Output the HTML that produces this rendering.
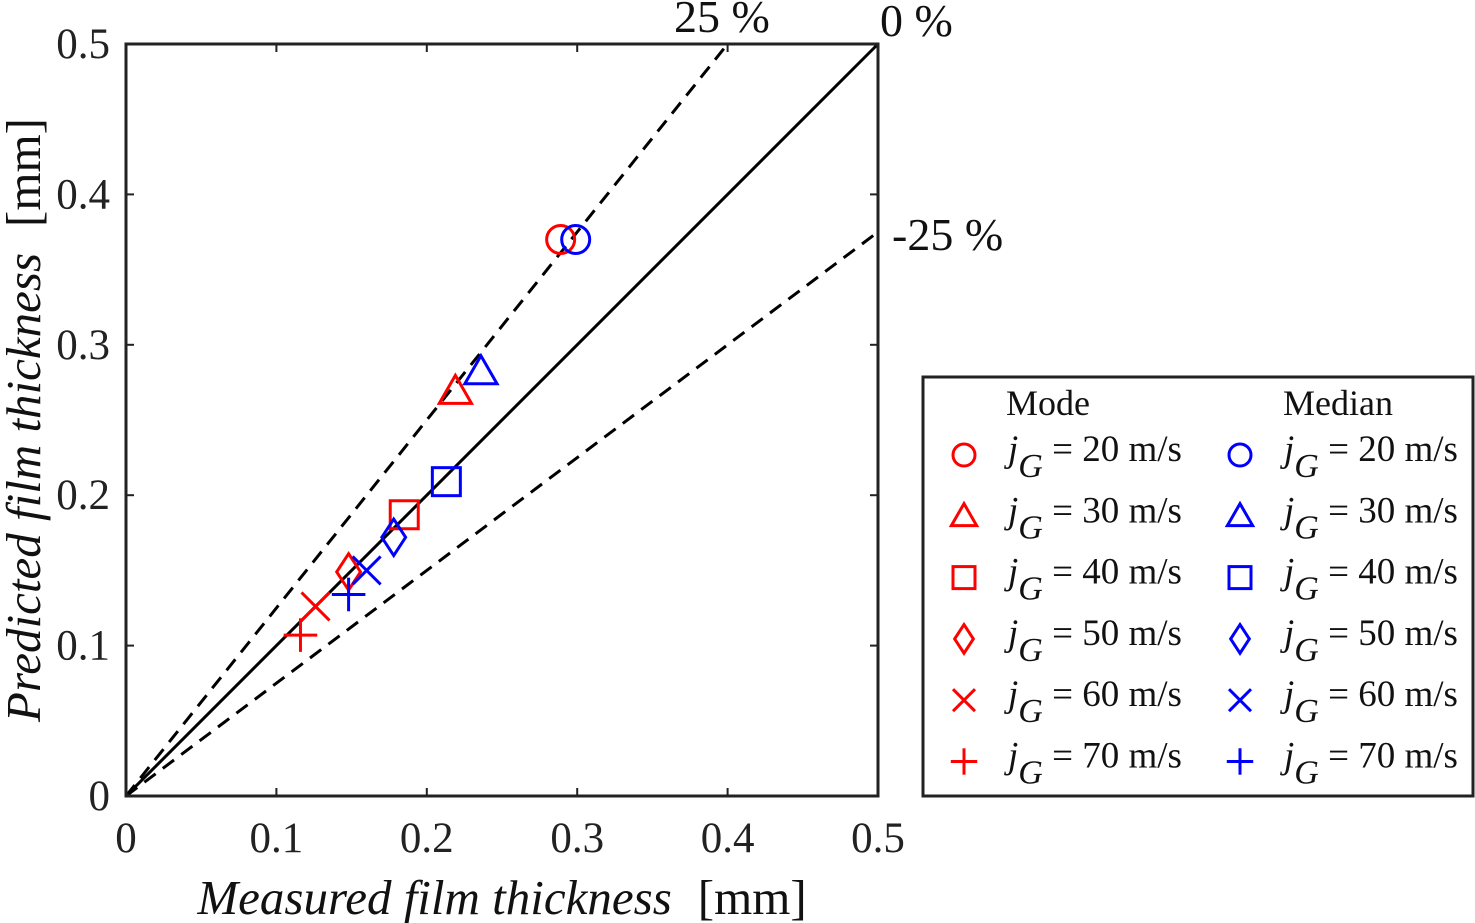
<!DOCTYPE html>
<html><head><meta charset="utf-8"><style>
html,body{margin:0;padding:0;background:#fff;}
svg{display:block;font-family:"Liberation Serif",serif;}
</style></head><body>
<svg id="c" width="1475" height="923" viewBox="0 0 1475 923"></svg>
<script>
const speeds=[20,30,40,50,60,70];
const markers=['circle','triangle','square','diamond','x','plus'];
const modeX=[0.289,0.219,0.185,0.148,0.126,0.116];
const modeY=[0.370,0.269,0.187,0.149,0.126,0.107];
const medX=[0.299,0.236,0.213,0.178,0.160,0.148];
const medY=[0.370,0.282,0.209,0.172,0.150,0.134];
const ticks=[0,0.1,0.2,0.3,0.4,0.5];
const tickLabels=['0','0.1','0.2','0.3','0.4','0.5'];
const refSlopes=[1,1.25,0.75];

const NS='http://www.w3.org/2000/svg';
const svg=document.getElementById('c');
const X0=126,X1=878,Y0=796,Y1=44;
const sx=v=>X0+(v/0.5)*(X1-X0);
const sy=v=>Y0-(v/0.5)*(Y0-Y1);
function mk(tag,attrs,parent){const e=document.createElementNS(NS,tag);for(const k in attrs)e.setAttribute(k,attrs[k]);(parent||svg).appendChild(e);return e;}
function marker(type,cx,cy,color,r,parent){
  const g=mk('g',{fill:'none',stroke:color,'stroke-width':3},parent);
  if(type==='circle')mk('circle',{cx,cy,r},g);
  else if(type==='triangle')mk('polygon',{points:`${cx},${cy-r*1.15} ${cx+r*1.15},${cy+r*0.85} ${cx-r*1.15},${cy+r*0.85}`},g);
  else if(type==='square')mk('rect',{x:cx-r,y:cy-r,width:2*r,height:2*r},g);
  else if(type==='diamond')mk('polygon',{points:`${cx},${cy-r*1.3} ${cx+r*0.85},${cy} ${cx},${cy+r*1.3} ${cx-r*0.85},${cy}`},g);
  else if(type==='x'){mk('line',{x1:cx-r,y1:cy-r,x2:cx+r,y2:cy+r},g);mk('line',{x1:cx-r,y1:cy+r,x2:cx+r,y2:cy-r},g);}
  else {mk('line',{x1:cx-r*1.2,y1:cy,x2:cx+r*1.2,y2:cy},g);mk('line',{x1:cx,y1:cy-r*1.2,x2:cx,y2:cy+r*1.2},g);}
  return g;
}
refSlopes.forEach((s,i)=>{
  const xe=Math.min(0.5,0.5/s);
  const l=mk('line',{x1:sx(0),y1:sy(0),x2:sx(xe),y2:sy(xe*s),stroke:'#000','stroke-width':3,'stroke-dasharray':s===1?'none':'14,9'});
  
  
});
const box=mk('rect',{x:X0,y:Y1,width:X1-X0,height:Y0-Y1,fill:'none',stroke:'#222','stroke-width':3});


ticks.forEach((t,i)=>{
  mk('line',{x1:sx(t),y1:Y0,x2:sx(t),y2:Y0-8,stroke:'#222','stroke-width':2});
  mk('line',{x1:sx(t),y1:Y1,x2:sx(t),y2:Y1+8,stroke:'#222','stroke-width':2});
  mk('line',{x1:X0,y1:sy(t),x2:X0+8,y2:sy(t),stroke:'#222','stroke-width':2});
  mk('line',{x1:X1,y1:sy(t),x2:X1-8,y2:sy(t),stroke:'#222','stroke-width':2});
  const tx=mk('text',{x:sx(t),y:852,'font-size':43,'text-anchor':'middle',fill:'#222'});tx.textContent=tickLabels[i];
  
  
  const ty=mk('text',{x:110,y:sy(t)+14,'font-size':43,'text-anchor':'end',fill:'#222'});ty.textContent=tickLabels[i];
  
  
});
speeds.forEach((s,i)=>{
  const a=marker(markers[i],sx(modeX[i]),sy(modeY[i]),'#f00',14);
  
  
  const b=marker(markers[i],sx(medX[i]),sy(medY[i]),'#00f',14);
  
  
});
</script>
<svg width="1475" height="923" style="position:absolute;left:0;top:0">
<g font-family="Liberation Serif, serif" fill="#111">
<text x="674" y="32" font-size="46">25 %</text>
<text x="880" y="36" font-size="46">0 %</text>
<text x="892" y="250" font-size="46">-25 %</text>
<text x="502" y="914" font-size="49" text-anchor="middle"><tspan font-style="italic">Measured film thickness</tspan><tspan dx="26">[mm]</tspan></text>
<text transform="translate(40,420) rotate(-90)" font-size="49" text-anchor="middle"><tspan font-style="italic">Predicted film thickness</tspan><tspan dx="26">[mm]</tspan></text>
</g>
</svg>
<svg id="lg" width="1475" height="923" style="position:absolute;left:0;top:0"></svg>
<script>
(function(){
const lg=document.getElementById('lg');
const r=mk('rect',{x:923,y:377,width:550,height:419,fill:'#fff',stroke:'#222','stroke-width':3},lg);


const h1=mk('text',{x:1006,y:415,'font-size':36,fill:'#111'},lg);h1.textContent='Mode';


const h2=mk('text',{x:1283,y:415,'font-size':36,fill:'#111'},lg);h2.textContent='Median';


speeds.forEach((s,i)=>{
  const cy=455+i*61.3;
  [[964,1008,'#f00','mode'],[1240,1284,'#00f','median']].forEach(([mx,tx,col,nm])=>{
    const m=marker(markers[i],mx,cy,col,11,lg);
    
    
    const t=mk('text',{x:tx,y:cy+6,'font-size':37,fill:'#111'},lg);
    t.innerHTML='<tspan font-style="italic">j</tspan><tspan font-style="italic" dy="16" font-size="34">G</tspan><tspan dy="-16"> = '+s+' m/s</tspan>';
    
    
  });
});
})();
</script>
</body></html>
